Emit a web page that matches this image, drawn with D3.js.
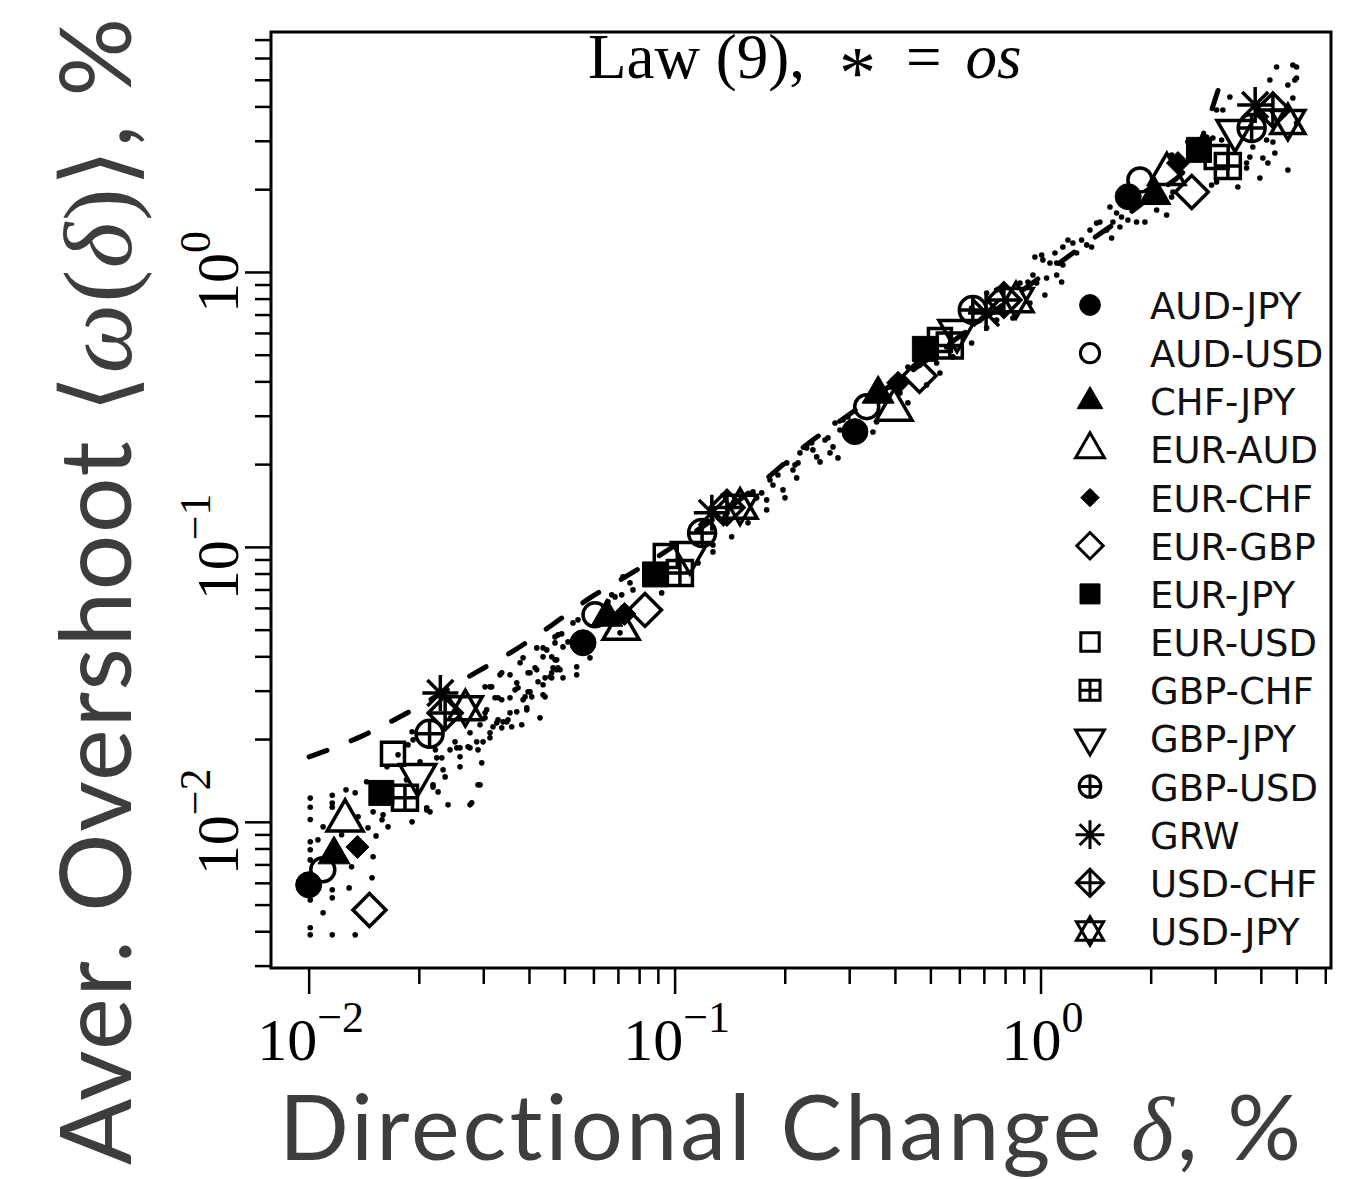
<!DOCTYPE html>
<html><head><meta charset="utf-8">
<script src="https://cdn.jsdelivr.net/npm/d3@7"></script>
<style>body{margin:0;background:#fff}svg{display:block}text{font-variant-ligatures:none}</style>
</head><body>
<svg id="chart" width="1360" height="1179"></svg>
<script>
// ---------------- DATA ----------------
const seriesNames = ["AUD-JPY","AUD-USD","CHF-JPY","EUR-AUD","EUR-CHF","EUR-GBP","EUR-JPY","EUR-USD","GBP-CHF","GBP-JPY","GBP-USD","GRW","USD-CHF","USD-JPY"];
const seriesShapes = ["dotFill","circle","triFill","tri","diaFill","dia","sqFill","sq","sqPlus","triDown","circPlus","aster","diaPlus","star"];
// directional change thresholds (%) per series, one per cluster
const deltaValues = [
  [0.0100, 0.0562, 0.311, 1.736],
  [0.01093, 0.0606, 0.335, 1.869],
  [0.01173, 0.0653, 0.360, 2.054],
  [0.01258, 0.0714, 0.398, 2.214],
  [0.01359, 0.0730, 0.408, 2.374],
  [0.01466, 0.0830, 0.467, 2.590],
  [0.0158, 0.0884, 0.483, 2.710],
  [0.0170, 0.0946, 0.531, 3.030],
  [0.01833, 0.1034, 0.565, 3.250],
  [0.01985, 0.1100, 0.591, 3.400],
  [0.0214, 0.1189, 0.653, 3.775],
  [0.0229, 0.1264, 0.710, 3.860],
  [0.0236, 0.1390, 0.794, 4.315],
  [0.0268, 0.1510, 0.857, 4.742]
];
// average overshoot (%) per series
const omegaValues = [
  [0.0059, 0.0448, 0.2625, 1.878],
  [0.00669, 0.0566, 0.3237, 2.16],
  [0.0076, 0.0556, 0.360, 1.90],
  [0.0101, 0.0503, 0.315, 2.27],
  [0.0081, 0.0570, 0.395, 2.49],
  [0.00478, 0.0590, 0.419, 1.954],
  [0.01274, 0.0794, 0.525, 2.78],
  [0.01767, 0.0927, 0.566, 2.62],
  [0.01223, 0.0804, 0.540, 2.43],
  [0.0148, 0.0950, 0.610, 3.26],
  [0.0209, 0.1124, 0.727, 3.34],
  [0.0294, 0.1330, 0.709, 4.05],
  [0.0249, 0.1390, 0.790, 3.88],
  [0.0259, 0.1400, 0.790, 3.51]
];
// small-dot scatter [delta, omega]
const dotPoints = [
[0.0101,0.0122],[0.0101,0.0113],[0.0101,0.0102],[0.0101,0.00846],[0.0101,0.00791],[0.0101,0.00727],[0.0101,0.0052],[0.0101,0.00412],[0.0101,0.00388],
[0.0116,0.0125],[0.0116,0.0117],[0.0116,0.0113],[0.0116,0.00566],[0.0116,0.00529],[0.0116,0.00388],
[0.01095,0.00959],[0.01095,0.00467],[0.0106,0.0086],
[0.01265,0.01307],[0.0134,0.01275],[0.0129,0.00575],[0.0134,0.00388],[0.0131,0.00686],[0.0123,0.00897],[0.01365,0.01043],[0.01453,0.00951],[0.0150,0.00746],[0.0149,0.00626],[0.01528,0.00889],[0.01597,0.0106],[0.01648,0.00959],[0.01587,0.01017],[0.0150,0.01087],[0.0144,0.01398],[0.01637,0.01585],[0.01755,0.01752],[0.01917,0.01],[0.02102,0.01105],[0.02404,0.01153],[0.0279,0.01173],[0.02903,0.01363],[0.02972,0.01639],[0.02592,0.01585],[0.0233,0.01546],[0.0236,0.01457],[0.02187,0.01363],[0.02258,0.01285],[0.02016,0.01653],[0.01917,0.02125],[0.01869,0.01905],[0.0222,0.01827],[0.02311,0.01709],[0.02434,0.01827],[0.02592,0.01858],[0.0276,0.01858],[0.02903,0.01827],[0.0313,0.02021],[0.0319,0.02216],[0.0337,0.02197],[0.03588,0.02216],[0.03822,0.02253],[0.03945,0.02554],[0.03704,0.02512],[0.03478,0.0231],[0.03292,0.02824],[0.0355,0.02824],[0.03266,0.02291],[0.0313,0.03097],[0.03334,0.03425],[0.0355,0.03425],[0.03704,0.03203],[0.03734,0.03071],[0.04027,0.0297],[0.03977,0.03483],[0.042,0.03571],[0.04288,0.02389],[0.0437,0.0315],[0.04426,0.02848],[0.04567,0.03368],[0.04763,0.03571],[0.03034,0.02491],[0.0294,0.02253],
[0.04712,0.04705],[0.04914,0.04826],[0.04955,0.04328],[0.05113,0.04512],[0.042,0.04292],[0.0437,0.04292],[0.0437,0.03981],[0.04615,0.03981],[0.04763,0.03882],[0.03854,0.03948],[0.03782,0.03786],[0.04863,0.03571],[0.04955,0.0334],[0.04615,0.0334],[0.04426,0.0334],[0.04235,0.0323],[0.04027,0.03483],[0.04156,0.03631],[0.03664,0.0302],[0.03977,0.0297],[0.0407,0.02848],[0.0437,0.02896],[0.03903,0.02848],[0.03854,0.02777],[0.03945,0.02597],[0.0355,0.02491],[0.03506,0.0235],[0.03397,0.0231],[0.0337,0.03483],[0.03034,0.03097],[0.03164,0.03097],[0.0323,0.02824],[0.0337,0.02777],[0.0313,0.02107],[0.02996,0.01954],[0.02879,0.01954],[0.02726,0.01874],[0.02539,0.01858],[0.02239,0.01709],[0.02592,0.01723],[0.0294,0.01363],[0.0276,0.01153],[0.02187,0.0134],[0.02102,0.01124],[0.02146,0.01087],[0.02512,0.01954],[0.01929,0.01987],[0.0185,0.01421],[0.0276,0.02107],[0.03066,0.02554],[0.03034,0.02389],[0.03292,0.0235],
[0.04473,0.04221],[0.04712,0.03882],[0.04654,0.03631],[0.05277,0.05292],[0.05445,0.05427],[0.05401,0.03662],[0.05872,0.03948],[0.06732,0.06691],[0.06874,0.06579],[0.0717,0.06691],[0.07553,0.07396],[0.07697,0.06976],[0.07228,0.07778],[0.06577,0.0631],[0.07093,0.04867],[0.04801,0.04786],[0.04712,0.04475],[0.04801,0.03631],[0.05401,0.03425],[0.04615,0.03483],[0.0922,0.06803],[0.1159,0.08746],[0.1273,0.0959],[0.1273,0.1017],[0.1432,0.1088],[0.1587,0.1223],[0.1638,0.1585],[0.1676,0.1508],[0.173,0.1572],[0.1785,0.1482],[0.1785,0.1363],[0.1823,0.1752],[0.1857,0.168],[0.1916,0.1827],[0.1978,0.1612],[0.2003,0.1508],[0.2106,0.1905],[0.2174,0.2021],[0.2156,0.1782],
[0.2201,0.2197],[0.2296,0.2291],[0.2369,0.2389],[0.2388,0.2253],[0.2445,0.2125],[0.2497,0.2038],[0.2576,0.2449],[0.2625,0.2491],[0.271,0.231],[0.2659,0.2197],[0.2796,0.2107],[0.2744,0.2824],[0.2885,0.2896],[0.2977,0.297],[0.2025,0.2021],[0.2133,0.1987],[0.2831,0.2663],[0.3484,0.2619],[0.3566,0.2848],[0.3951,0.4049],[0.3877,0.3819],[0.4044,0.3724],[0.4129,0.3631],[0.4341,0.334],[0.4341,0.4512],[0.4682,0.459],[0.4884,0.3883],[0.531,0.4292],[0.5201,0.4667],[0.5539,0.5336],[0.5764,0.4909],[0.6482,0.5517],[0.7124,0.6258],[0.7586,0.6691],[0.8406,0.6804],[0.9355,0.7713],[1.028,0.8248],[0.8785,0.912],[0.9238,0.9197],[0.9533,0.9752],[0.9757,0.912],[1.039,0.951],[1.107,0.9752],[1.142,0.9197],[1.061,1.078],[1.107,1.078],[1.151,1.06],[0.9654,1.134],[1.007,1.153],[0.7586,0.8601],[0.7124,0.8388],[0.6482,0.7397],
[1.015,1.106],[1.095,1.172],[1.151,1.233],[1.188,1.307],[1.226,1.275],[1.255,1.172],[1.295,1.307],[1.337,1.254],[1.379,1.233],[1.365,1.421],[1.423,1.507],[1.453,1.52],[1.516,1.421],[1.564,1.329],[1.577,1.52],[1.548,1.723],[1.614,1.639],[1.665,1.585],[1.733,1.546],[1.83,1.52],[1.929,1.52],[1.648,1.457],[2.077,1.681],[2.211,1.612],[2.094,1.858],[1.991,1.987],[2.282,1.874],[2.3,1.954],[2.282,2.664],[2.404,2.597],[2.527,2.97],[2.777,3.02],[2.843,3.097],[2.958,3.071],[3.125,3.02],[2.934,2.072],[3.028,2.125],[3.461,2.038],[3.656,2.491],[3.656,2.389],[3.733,2.619],[3.976,2.197],[4.052,2.597],[4.181,2.491],[4.369,2.708],[4.742,2.349],[3.804,2.848],[3.028,3.883],[3.15,3.883],[3.292,4.329],[4.234,4.99],[4.416,5.567],[4.742,4.786],[4.955,4.99],[4.893,5.66],[5.008,5.567],[4.893,4.293],[5.008,3.483],[4.147,3.02],[4.315,2.97],[5.008,5.077]
];
// dashed law curve
const lawDelta = [0.01003, 0.01382, 0.01777, 0.02884, 0.03664, 0.04624, 0.0587, 0.0741, 0.1834, 0.2272, 0.2831, 0.4683, 0.7744, 1.281, 1.991, 2.642, 2.885, 3.131];
const lawOmega = [0.01723, 0.02037, 0.0241, 0.0351, 0.0422, 0.0520, 0.0652, 0.0784, 0.1827, 0.2330, 0.2872, 0.4590, 0.7461, 1.223, 1.874, 2.664, 3.631, 5.077];
// axis ticks
const xMajorTicks = [0.01, 0.1, 1];
const xMinorTicks = [0.02,0.03,0.04,0.05,0.06,0.07,0.08,0.09,0.2,0.3,0.4,0.5,0.6,0.7,0.8,0.9,2,3,4,5,6];
const yMajorTicks = [0.01, 0.1, 1];
const yMinorTicks = [0.003,0.004,0.005,0.006,0.007,0.008,0.009,0.02,0.03,0.04,0.05,0.06,0.07,0.08,0.09,0.2,0.3,0.4,0.5,0.6,0.7,0.8,0.9,2,3,4,5,6,7];
const tickBase = "10";
const xTickExponents = ["\u22122", "\u22121", "0"];
const yTickExponents = ["\u22122", "\u22121", "0"];
const titleText = ["Law (9),", "*", "=", "os"];
const xAxisTitle = ["Directional Change ", "\u03B4", ", %"];
const yAxisTitle = ["Aver. Overshoot ", "\u27E8", "\u03C9", "(", "\u03B4", ")", "\u27E9", ", %"];

// ---------------- LAYOUT ----------------
const svg = d3.select("#chart");
const L = 271, R = 1331, T = 32, B = 968;
const x = d3.scaleLog().domain([0.00789, 6.22]).range([L, R]);
const y = d3.scaleLog().domain([0.00294, 7.46]).range([B, T]);
const serif = "'Liberation Serif','Times New Roman',serif";
const sans = "Lato, 'Open Sans', sans-serif";

// marker geometry
const plotSize = {dotFill:13, circle:12, triFill:16, tri:18, diaFill:11.5, dia:16.5, sqFill:12.5, sq:11.5, sqPlus:12.5, triDown:18, circPlus:13.5, aster:18, diaPlus:17, star:17};
const legendScale = 0.8;

function markerParts(shape, r) {
  const parts = [];
  const filled = shape.endsWith("Fill");
  const circ = () => { const p = d3.path(); p.moveTo(r, 0); p.arc(0, 0, r, 0, 2 * Math.PI); p.closePath(); return p.toString(); };
  const tri = (dir) => { const h = r * Math.sqrt(3); const p = d3.path();
    p.moveTo(0, -dir * 2 * h / 3); p.lineTo(r, dir * h / 3); p.lineTo(-r, dir * h / 3); p.closePath(); return p.toString(); };
  const dia = () => { const p = d3.path(); p.moveTo(0, -r); p.lineTo(r, 0); p.lineTo(0, r); p.lineTo(-r, 0); p.closePath(); return p.toString(); };
  const sq = () => { const p = d3.path(); p.rect(-r, -r, 2 * r, 2 * r); return p.toString(); };
  const cross = (a) => { const p = d3.path(); p.moveTo(-a, 0); p.lineTo(a, 0); p.moveTo(0, -a); p.lineTo(0, a); return p.toString(); };
  switch (shape) {
    case "dotFill": case "circle": parts.push(circ()); break;
    case "triFill": case "tri": parts.push(tri(1)); break;
    case "triDown": parts.push(tri(-1)); break;
    case "diaFill": case "dia": parts.push(dia()); break;
    case "sqFill": case "sq": parts.push(sq()); break;
    case "sqPlus": parts.push(sq(), cross(r)); break;
    case "circPlus": parts.push(circ(), cross(r)); break;
    case "diaPlus": parts.push(dia(), cross(r)); break;
    case "aster": { const p = d3.path(); const d = r * 0.72;
      p.moveTo(-r, 0); p.lineTo(r, 0); p.moveTo(0, -r); p.lineTo(0, r);
      p.moveTo(-d, -d); p.lineTo(d, d); p.moveTo(-d, d); p.lineTo(d, -d);
      parts.push(p.toString()); break; }
    case "star": { const p = d3.path(); const w = r, a = 0.68 * r, b = 1.05 * r;
      p.moveTo(-w, -a); p.lineTo(w, -a); p.lineTo(0, b); p.closePath();
      p.moveTo(-w, a); p.lineTo(w, a); p.lineTo(0, -b); p.closePath();
      parts.push(p.toString()); break; }
  }
  return {parts, filled};
}
function drawMarker(g, shape, r, sw) {
  const m = markerParts(shape, r);
  m.parts.forEach(d => g.append("path").attr("d", d)
    .attr("fill", m.filled ? "#000" : "none")
    .attr("stroke", "#000").attr("stroke-width", m.filled ? 1 : sw)
    .attr("stroke-linejoin", "miter"));
}

// ---------------- DRAW ----------------
// small dots
svg.append("g").selectAll("circle").data(dotPoints).join("circle")
  .attr("cx", d => x(d[0])).attr("cy", d => y(d[1])).attr("r", 2.8).attr("fill", "#000");

// dashed law line
const lawData = lawDelta.map((d, i) => [d, lawOmega[i]]);
svg.append("path").datum(lawData)
  .attr("d", d3.line().x(d => x(d[0])).y(d => y(d[1])).curve(d3.curveMonotoneX))
  .attr("fill", "none").attr("stroke", "#000").attr("stroke-width", 5)
  .attr("stroke-dasharray", "19,26").attr("stroke-linecap", "round");

// series markers
seriesNames.forEach((name, si) => {
  deltaValues[si].forEach((dv, k) => {
    const g = svg.append("g").attr("transform", `translate(${x(dv)},${y(omegaValues[si][k])})`);
    drawMarker(g, seriesShapes[si], plotSize[seriesShapes[si]], 3.5);
  });
});

// frame
svg.append("rect").attr("x", L).attr("y", T).attr("width", R - L).attr("height", B - T)
  .attr("fill", "none").attr("stroke", "#000").attr("stroke-width", 3);

// axes
function styleAxis(g) { g.select(".domain").remove(); g.selectAll(".tick line").attr("stroke", "#000").attr("stroke-width", 2.5); g.selectAll("text").remove(); }
svg.append("g").attr("transform", `translate(0,${B})`).call(d3.axisBottom(x).tickValues(xMinorTicks).tickSize(16).tickFormat("")).call(styleAxis);
svg.append("g").attr("transform", `translate(0,${B})`).call(d3.axisBottom(x).tickValues(xMajorTicks).tickSize(26).tickFormat("")).call(styleAxis);
svg.append("g").attr("transform", `translate(${L},0)`).call(d3.axisLeft(y).tickValues(yMinorTicks).tickSize(16).tickFormat("")).call(styleAxis);
svg.append("g").attr("transform", `translate(${L},0)`).call(d3.axisLeft(y).tickValues(yMajorTicks).tickSize(26).tickFormat("")).call(styleAxis);

// tick labels
function powLabel(sel, exp) {
  sel.attr("font-family", serif).attr("fill", "#000").attr("text-anchor", "middle");
  sel.append("tspan").attr("font-size", 60).text(tickBase);
  sel.append("tspan").attr("font-size", 44).attr("dy", -28).text(exp);
}
xMajorTicks.forEach((v, i) => {
  svg.append("text").attr("x", x(v) + 2).attr("y", 1060).call(powLabel, xTickExponents[i]);
});
yMajorTicks.forEach((v, i) => {
  svg.append("text").attr("transform", `translate(238,${y(v)}) rotate(-90)`).call(powLabel, yTickExponents[i]);
});

// title
const tt = svg.append("text").attr("x", 588).attr("y", 78).attr("text-anchor", "start")
  .attr("font-family", serif).attr("font-size", 63).attr("fill", "#000");
tt.append("tspan").text(titleText[0]);
tt.append("tspan").attr("dx", 34).attr("dy", 20).attr("font-size", 74).text(titleText[1]);
tt.append("tspan").attr("dx", 30).attr("dy", -20).text(titleText[2]);
tt.append("tspan").attr("dx", 24).attr("font-style", "italic").text(titleText[3]);

// axis titles
const gray = "#3d3d3d";
const xt = svg.append("text").attr("x", 279).attr("y", 1160).attr("text-anchor", "start")
  .attr("textLength", 1022).attr("lengthAdjust", "spacing")
  .attr("font-family", sans).attr("font-size", 92).attr("fill", gray);
xt.append("tspan").text(xAxisTitle[0]);
xt.append("tspan").attr("font-family", serif).attr("font-style", "italic").text(xAxisTitle[1]);
xt.append("tspan").text(xAxisTitle[2]);

const yt = svg.append("text").attr("transform", "translate(131,1165) rotate(-90)").attr("text-anchor", "start")
  .attr("textLength", 1147).attr("lengthAdjust", "spacing")
  .attr("font-family", sans).attr("font-size", 98).attr("fill", gray);
yAxisTitle.forEach((s, i) => {
  const sp = yt.append("tspan").text(s);
  if (s === "\u03C9" || s === "\u03B4") sp.attr("font-family", serif).attr("font-style", "italic");
  if (s === "\u27E8" || s === "\u27E9" || s === "(" || s === ")") sp.attr("font-family", serif);
});

// legend
const legendRowY = seriesNames.map((_, i) => 305 + 48.15 * i);
seriesNames.forEach((name, i) => {
  const g = svg.append("g").attr("transform", `translate(1090,${legendRowY[i]})`);
  drawMarker(g, seriesShapes[i], plotSize[seriesShapes[i]] * legendScale, 3);
  svg.append("text").attr("x", 1150).attr("y", legendRowY[i] + 14)
    .attr("font-family", "'DejaVu Sans', sans-serif").attr("font-size", 37).attr("fill", "#111").text(name);
});
</script>
</body></html>
